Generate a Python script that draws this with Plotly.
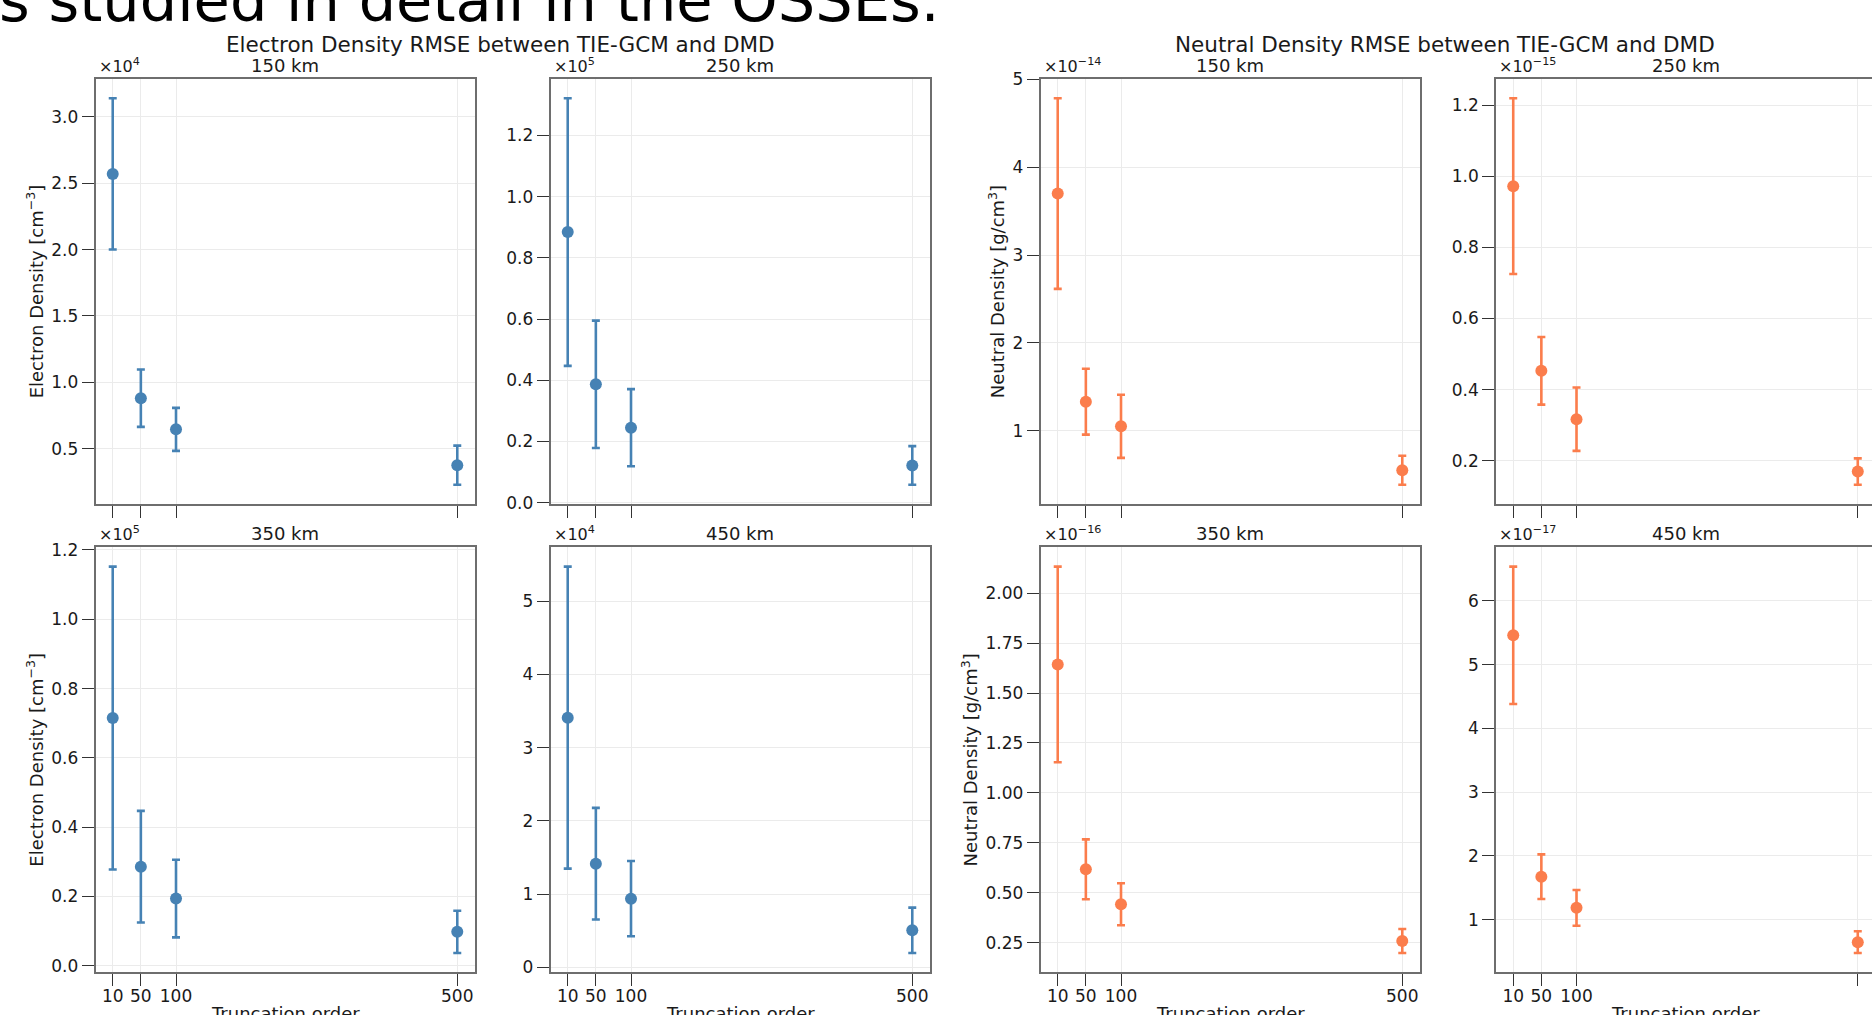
import plotly.graph_objects as go

W, H = 1872, 1015

# ---------------- data ----------------
orders = [10, 50, 100, 500]
xtick_vals = [10, 50, 100, 500]
xtick_text = ["10", "50", "100", "500"]
altitudes = ["150 km", "250 km", "350 km", "450 km"]

# Electron density RMSE [cm^-3]
ne_150_mean = [2.57e4, 0.88e4, 0.645e4, 0.375e4]
ne_150_std = [0.57e4, 0.216e4, 0.162e4, 0.147e4]
ne_250_mean = [0.884e5, 0.387e5, 0.245e5, 0.122e5]
ne_250_std = [0.437e5, 0.208e5, 0.126e5, 0.063e5]
ne_350_mean = [0.715e5, 0.286e5, 0.194e5, 0.098e5]
ne_350_std = [0.437e5, 0.161e5, 0.112e5, 0.061e5]
ne_450_mean = [3.41e4, 1.415e4, 0.937e4, 0.505e4]
ne_450_std = [2.063e4, 0.762e4, 0.514e4, 0.31e4]

# Neutral density RMSE [g/cm^3]
rho_150_mean = [3.70e-14, 1.33e-14, 1.05e-14, 0.55e-14]
rho_150_std = [1.085e-14, 0.375e-14, 0.36e-14, 0.165e-14]
rho_250_mean = [0.972e-15, 0.453e-15, 0.317e-15, 0.170e-15]
rho_250_std = [0.247e-15, 0.095e-15, 0.089e-15, 0.037e-15]
rho_350_mean = [1.643e-16, 0.617e-16, 0.442e-16, 0.258e-16]
rho_350_std = [0.49e-16, 0.15e-16, 0.105e-16, 0.06e-16]
rho_450_mean = [5.46e-17, 1.675e-17, 1.186e-17, 0.648e-17]
rho_450_std = [1.077e-17, 0.35e-17, 0.28e-17, 0.17e-17]

ne_exponents = [4, 5, 5, 4]
rho_exponents = [-14, -15, -16, -17]

suptitle_ne = "Electron Density RMSE between TIE-GCM and DMD"
suptitle_rho = "Neutral Density RMSE between TIE-GCM and DMD"
ylabel_ne = "Electron Density [cm<sup>−3</sup>]"
ylabel_rho = "Neutral Density [g/cm<sup>3</sup>]"
xlabel = "Truncation order"
slide_text = "s studied in detail in the OSSEs."

# ---------------- style / layout ----------------
FONT = "DejaVu Sans"
BLUE = "#4682b4"
ORANGE = "#fb7d4c"
SPINE = "#6e6e6e"
GRID = "#ebebeb"
TXT = "#1a1a1a"

col_px = [(95.5, 474.5), (550.5, 929.5), (1040.5, 1419.5), (1496.0, 1872.0)]
row_px = [(79.0, 504.0), (547.3, 972.3)]
px_per_unit = 379.0 / 539.0

panels = [
    # (col, row, mean, std, exponent, dtick, fmt, color, ylabel, title)
    (0, 0, ne_150_mean, ne_150_std, ne_exponents[0], 0.5, ".1f", BLUE, ylabel_ne, altitudes[0]),
    (1, 0, ne_250_mean, ne_250_std, ne_exponents[1], 0.2, ".1f", BLUE, None, altitudes[1]),
    (0, 1, ne_350_mean, ne_350_std, ne_exponents[2], 0.2, ".1f", BLUE, ylabel_ne, altitudes[2]),
    (1, 1, ne_450_mean, ne_450_std, ne_exponents[3], 1, "d", BLUE, None, altitudes[3]),
    (2, 0, rho_150_mean, rho_150_std, rho_exponents[0], 1, "d", ORANGE, ylabel_rho, altitudes[0]),
    (3, 0, rho_250_mean, rho_250_std, rho_exponents[1], 0.2, ".1f", ORANGE, None, altitudes[1]),
    (2, 1, rho_350_mean, rho_350_std, rho_exponents[2], 0.25, ".2f", ORANGE, ylabel_rho, altitudes[2]),
    (3, 1, rho_450_mean, rho_450_std, rho_exponents[3], 1, "d", ORANGE, None, altitudes[3]),
]

fig = go.Figure()
annotations = []
layout = {}

def fx(px):
    return px / W

def fy(py):
    return 1 - py / H

for i, (c, r, mean, std, ex, dtick, fmt, color, ylab, ttl) in enumerate(panels, start=1):
    scale = 10.0 ** ex
    y = [m / scale for m in mean]
    e = [s / scale for s in std]
    sfx = "" if i == 1 else str(i)
    fig.add_trace(go.Scatter(
        x=orders, y=y, mode="markers",
        marker=dict(color=color, size=12, line=dict(width=0)),
        error_y=dict(type="data", array=e, visible=True, color=color, thickness=2.6, width=4),
        xaxis="x" + sfx, yaxis="y" + sfx, showlegend=False,
    ))
    lo = min(a - b for a, b in zip(y, e))
    hi = max(a + b for a, b in zip(y, e))
    pad = 0.05 * (hi - lo)
    x0, x1 = col_px[c]
    y0, y1 = row_px[r]
    xr_hi = -14.5 + (x1 - x0) / px_per_unit
    last_col = (c == 3)
    layout["xaxis" + sfx] = dict(
        domain=[fx(x0), fx(x1)], anchor="y" + sfx, range=[-14.5, xr_hi],
        tickmode="array", tickvals=xtick_vals, ticktext=xtick_text,
        showticklabels=(r == 1), ticks="outside", ticklen=12, tickwidth=1.2, tickcolor="#333333",
        ticklabelstandoff=-5,
        showgrid=True, gridcolor=GRID, gridwidth=1, zeroline=False,
        showline=True, linecolor=SPINE, linewidth=1.6, mirror=True,
        tickfont=dict(family=FONT, size=17, color=TXT),
        automargin=False, fixedrange=True,
    )
    layout["yaxis" + sfx] = dict(
        domain=[fy(y1), fy(y0)], anchor="x" + sfx, range=[lo - pad, hi + pad],
        tickmode="linear", tick0=0, dtick=dtick, tickformat=fmt,
        ticks="outside", ticklen=12, tickwidth=1.2, tickcolor="#333333",
        showgrid=True, gridcolor=GRID, gridwidth=1, zeroline=False,
        showline=True, linecolor=SPINE, linewidth=1.6, mirror=(not last_col),
        tickfont=dict(family=FONT, size=17, color=TXT),
        title=dict(text=ylab or "", font=dict(family=FONT, size=18, color=TXT), standoff=3),
        automargin=False, fixedrange=True,
    )
    # subplot title
    annotations.append(dict(
        text=ttl, x=fx(col_px[c][0] + 379 / 2), y=fy(y0 - 1),
        xref="paper", yref="paper", xanchor="center", yanchor="bottom",
        showarrow=False, font=dict(family=FONT, size=18, color=TXT),
    ))
    # offset (scale) label
    annotations.append(dict(
        text="×10<sup>%d</sup>" % ex if ex > 0 else "×10<sup>−%d</sup>" % (-ex),
        x=fx(x0 + 1), y=fy(y0 - 1), xref="paper", yref="paper",
        xanchor="left", yanchor="bottom", showarrow=False,
        font=dict(family=FONT, size=16, color=TXT),
    ))
    # x-axis title (bottom row), partially cut off by the frame edge like the reference
    if r == 1:
        annotations.append(dict(
            text=xlabel, x=fx(col_px[c][0] + 379 / 2), y=fy(1001),
            xref="paper", yref="paper", xanchor="center", yanchor="top",
            showarrow=False, font=dict(family=FONT, size=18, color=TXT),
        ))

annotations.append(dict(
    text=suptitle_ne, x=fx(500), y=fy(59), xref="paper", yref="paper",
    xanchor="center", yanchor="bottom", showarrow=False,
    font=dict(family=FONT, size=21.5, color=TXT),
))
annotations.append(dict(
    text=suptitle_rho, x=fx(1445), y=fy(59), xref="paper", yref="paper",
    xanchor="center", yanchor="bottom", showarrow=False,
    font=dict(family=FONT, size=21.5, color=TXT),
))
annotations.append(dict(
    text=slide_text, x=fx(-3), y=fy(37), xref="paper", yref="paper",
    xanchor="left", yanchor="bottom", showarrow=False,
    font=dict(family=FONT, size=59, color="#000000"),
))

fig.update_layout(
    width=W, height=H,
    margin=dict(l=0, r=0, t=0, b=0, autoexpand=False),
    paper_bgcolor="white", plot_bgcolor="white",
    annotations=annotations,
    **layout,
)

fig.write_html("out.html", config={"displayModeBar": False})
